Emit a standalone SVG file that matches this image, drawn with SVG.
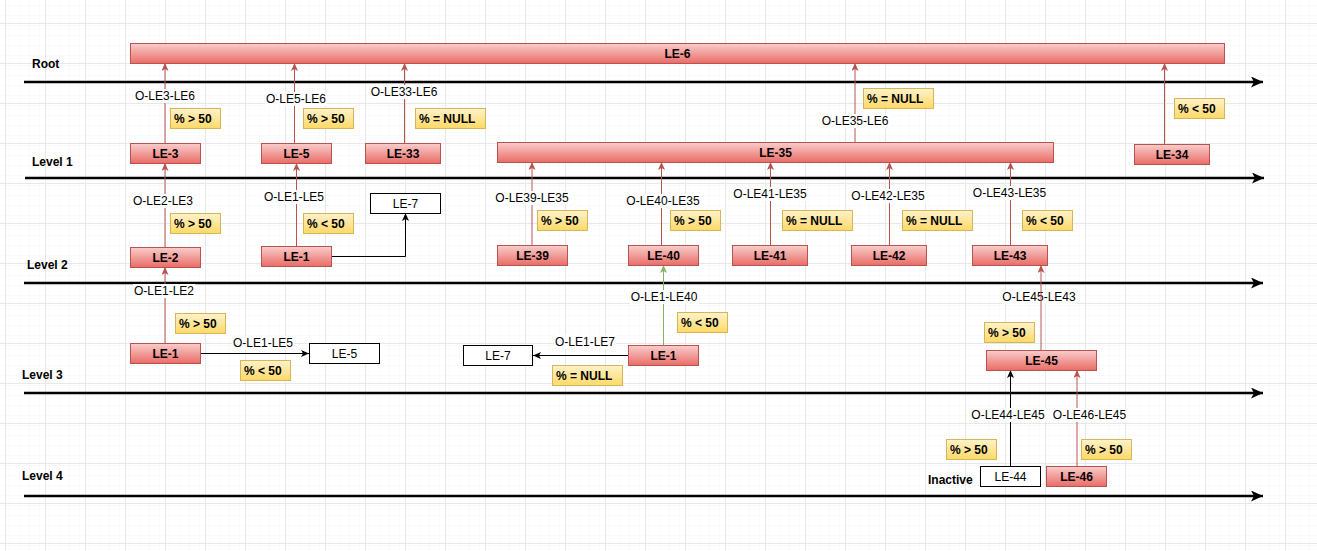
<svg xmlns="http://www.w3.org/2000/svg" width="1317" height="551" viewBox="0 0 1317 551">
<defs>
  <pattern id="minor" x="5" y="3" width="10" height="10" patternUnits="userSpaceOnUse">
    <path d="M10,0 V10 M0,10 H10" fill="none" stroke="#f4f4f4" stroke-width="1"/>
  </pattern>
  <pattern id="major" x="5" y="23" width="40" height="40" patternUnits="userSpaceOnUse">
    <rect width="40" height="40" fill="url(#minor)"/>
    <path d="M0.5,0 V40 M0,0.5 H40" fill="none" stroke="#e8e8e8" stroke-width="1"/>
  </pattern>
  <linearGradient id="red" x1="0" y1="0" x2="0" y2="1">
    <stop offset="0" stop-color="#f8cecc"/>
    <stop offset="1" stop-color="#ea6b66"/>
  </linearGradient>
  <linearGradient id="yel" x1="0" y1="0" x2="0" y2="1">
    <stop offset="0" stop-color="#fff2cc"/>
    <stop offset="1" stop-color="#ffd966"/>
  </linearGradient>
  <marker id="aRed" markerUnits="userSpaceOnUse" markerWidth="9" markerHeight="8" refX="8" refY="3.5" orient="auto">
    <path d="M0,0 L8,3.5 L0,7 L2,3.5 Z" fill="#b85450"/>
  </marker>
  <marker id="aBlack" markerUnits="userSpaceOnUse" markerWidth="9" markerHeight="8" refX="8" refY="3.5" orient="auto">
    <path d="M0,0 L8,3.5 L0,7 L2,3.5 Z" fill="#000"/>
  </marker>
  <marker id="aGreen" markerUnits="userSpaceOnUse" markerWidth="9" markerHeight="8" refX="8" refY="3.5" orient="auto">
    <path d="M0,0 L8,3.5 L0,7 L2,3.5 Z" fill="#82b366"/>
  </marker>
  <marker id="aAxis" markerUnits="userSpaceOnUse" markerWidth="13" markerHeight="12" refX="12" refY="5.5" orient="auto">
    <path d="M0,0 L12,5.5 L0,11 L3,5.5 Z" fill="#000"/>
  </marker>
</defs>
<style>
  text { font-family: "Liberation Sans", Arial, Helvetica, sans-serif; font-size: 12px; fill: #000; }
  .n rect { fill: url(#red); stroke: #b85450; stroke-width: 1; }
  .n text { font-weight: bold; text-anchor: middle; }
  .w rect { fill: #fff; stroke: #000; stroke-width: 1; }
  .w text { text-anchor: middle; }
  .y rect { fill: url(#yel); stroke: #d6b656; stroke-width: 1; }
  .y text { font-weight: bold; }
  .lvl { font-weight: bold; }
  .axis { stroke: #000; stroke-width: 2.5; fill: none; marker-end: url(#aAxis); }
  .er { stroke: #b85450; stroke-width: 1; fill: none; marker-end: url(#aRed); }
  .eb { stroke: #000; stroke-width: 1; fill: none; marker-end: url(#aBlack); }
  .eg { stroke: #82b366; stroke-width: 1; fill: none; marker-end: url(#aGreen); }
  .lb { fill: #fff; }
  .el { text-anchor: middle; }
</style>
<rect width="1317" height="551" fill="#fff"/>
<rect width="1317" height="551" fill="url(#major)"/>

<g id="axes">
  <path class="axis" d="M24,82 H1263"/>
  <path class="axis" d="M25,178 H1264"/>
  <path class="axis" d="M24,283 H1263"/>
  <path class="axis" d="M24,393 H1263"/>
  <path class="axis" d="M24,496 H1263"/>
  <text class="lvl" x="32" y="68">Root</text>
  <text class="lvl" x="32" y="166">Level 1</text>
  <text class="lvl" x="27" y="269">Level 2</text>
  <text class="lvl" x="22" y="379">Level 3</text>
  <text class="lvl" x="22" y="480">Level 4</text>
  <text class="lvl" x="928" y="484">Inactive</text>
</g>

<g id="connectors">
  <path class="er" d="M165,143 V63"/>
  <path class="er" d="M294.5,143 V63"/>
  <path class="er" d="M404.5,143 V63"/>
  <path class="er" d="M855,142 V63"/>
  <path class="er" d="M1164.5,144 V63"/>
  <path class="er" d="M165,247 V163"/>
  <path class="er" d="M296.5,246 V163"/>
  <path class="eb" d="M331,256.5 H405.5 V213"/>
  <path class="er" d="M532,245 V162"/>
  <path class="er" d="M661.5,245 V162"/>
  <path class="er" d="M770.5,245 V162"/>
  <path class="er" d="M889.5,245 V162"/>
  <path class="er" d="M1010.5,245 V162"/>
  <path class="er" d="M165,343 V267"/>
  <path class="eb" d="M200,353.5 H309"/>
  <path class="eg" d="M663.5,345 V265"/>
  <path class="eb" d="M628,355.5 H533"/>
  <path class="er" d="M1041,350 V265"/>
  <path class="eb" d="M1010.5,466 V370"/>
  <path class="er" d="M1077,466 V370"/>

  <g id="edge-labels">
    <rect class="lb" x="134" y="89" width="62" height="14"/><text class="el" x="165" y="100">O-LE3-LE6</text>
    <rect class="lb" x="265" y="92" width="62" height="14"/><text class="el" x="296" y="103">O-LE5-LE6</text>
    <rect class="lb" x="370" y="85" width="69" height="14"/><text class="el" x="404" y="96">O-LE33-LE6</text>
    <rect class="lb" x="821" y="114" width="69" height="14"/><text class="el" x="855" y="125">O-LE35-LE6</text>
    <rect class="lb" x="132" y="194" width="62" height="14"/><text class="el" x="163" y="205">O-LE2-LE3</text>
    <rect class="lb" x="263" y="190" width="62" height="14"/><text class="el" x="294" y="201">O-LE1-LE5</text>
    <rect class="lb" x="133" y="284" width="62" height="14"/><text class="el" x="164" y="295">O-LE1-LE2</text>
    <rect class="lb" x="232" y="336" width="62" height="14"/><text class="el" x="263" y="347">O-LE1-LE5</text>
    <rect class="lb" x="495" y="191" width="75" height="14"/><text class="el" x="532" y="202">O-LE39-LE35</text>
    <rect class="lb" x="626" y="194" width="75" height="14"/><text class="el" x="663" y="205">O-LE40-LE35</text>
    <rect class="lb" x="733" y="187" width="75" height="14"/><text class="el" x="770" y="198">O-LE41-LE35</text>
    <rect class="lb" x="851" y="189" width="75" height="14"/><text class="el" x="888" y="200">O-LE42-LE35</text>
    <rect class="lb" x="972" y="186" width="75" height="14"/><text class="el" x="1009.5" y="197">O-LE43-LE35</text>
    <rect class="lb" x="630" y="290" width="69" height="14"/><text class="el" x="664" y="301">O-LE1-LE40</text>
    <rect class="lb" x="554" y="335" width="62" height="14"/><text class="el" x="585" y="346">O-LE1-LE7</text>
    <rect class="lb" x="1002" y="290" width="75" height="14"/><text class="el" x="1039" y="301">O-LE45-LE43</text>
    <path d="M1041,290 V304" stroke="#b85450" stroke-width="1" fill="none"/>
    <rect class="lb" x="971" y="408" width="75" height="14"/><text class="el" x="1008" y="419">O-LE44-LE45</text>
    <rect class="lb" x="1052" y="408" width="75" height="14"/><text class="el" x="1089.5" y="419">O-LE46-LE45</text>
  </g>
</g>

<g id="LE-6" class="n"><rect x="130.5" y="43.5" width="1094" height="20"/><text x="677.5" y="57.5">LE-6</text></g>
<g id="LE-3" class="n"><rect x="130.5" y="143.5" width="70" height="20"/><text x="165.5" y="157.5">LE-3</text></g>
<g id="LE-5" class="n"><rect x="261.5" y="143.5" width="70" height="20"/><text x="296.5" y="157.5">LE-5</text></g>
<g id="LE-33" class="n"><rect x="365.5" y="143.5" width="75" height="20"/><text x="403" y="157.5">LE-33</text></g>
<g id="LE-35" class="n"><rect x="497.5" y="142.5" width="556" height="20"/><text x="775.5" y="156.5">LE-35</text></g>
<g id="LE-34" class="n"><rect x="1134.5" y="144.5" width="75" height="20"/><text x="1172" y="158.5">LE-34</text></g>

<g id="LE-2" class="n"><rect x="130.5" y="247.5" width="70" height="20"/><text x="165.5" y="261.5">LE-2</text></g>
<g id="LE-1-l2" class="n"><rect x="261.5" y="246.5" width="70" height="20"/><text x="296.5" y="260.5">LE-1</text></g>
<g id="LE-7-l2" class="w"><rect x="370.5" y="193.5" width="70" height="20"/><text x="405.5" y="207.5">LE-7</text></g>
<g id="LE-39" class="n"><rect x="497.5" y="245.5" width="70" height="20"/><text x="532.5" y="259.5">LE-39</text></g>
<g id="LE-40" class="n"><rect x="628.5" y="245.5" width="70" height="20"/><text x="663.5" y="259.5">LE-40</text></g>
<g id="LE-41" class="n"><rect x="732.5" y="245.5" width="75" height="20"/><text x="770" y="259.5">LE-41</text></g>
<g id="LE-42" class="n"><rect x="851.5" y="245.5" width="75" height="20"/><text x="889" y="259.5">LE-42</text></g>
<g id="LE-43" class="n"><rect x="972.5" y="245.5" width="75" height="20"/><text x="1010" y="259.5">LE-43</text></g>

<g id="LE-1-l3a" class="n"><rect x="130.5" y="343.5" width="70" height="20"/><text x="165.5" y="357.5">LE-1</text></g>
<g id="LE-5-l3" class="w"><rect x="309.5" y="343.5" width="70" height="20"/><text x="344.5" y="357.5">LE-5</text></g>
<g id="LE-7-l3" class="w"><rect x="463.5" y="345.5" width="69" height="20"/><text x="498" y="359.5">LE-7</text></g>
<g id="LE-1-l3b" class="n"><rect x="628.5" y="345.5" width="70" height="20"/><text x="663.5" y="359.5">LE-1</text></g>
<g id="LE-45" class="n"><rect x="986.5" y="350.5" width="110" height="20"/><text x="1041.5" y="364.5">LE-45</text></g>

<g id="LE-44" class="w"><rect x="980.5" y="466.5" width="60" height="20"/><text x="1010.5" y="480.5">LE-44</text></g>
<g id="LE-46" class="n"><rect x="1046.5" y="466.5" width="60" height="20"/><text x="1076.5" y="480.5">LE-46</text></g>

<g id="cond-1" class="y"><rect x="170.5" y="108.5" width="50" height="20"/><text x="174" y="122.5">% &gt; 50</text></g>
<g id="cond-2" class="y"><rect x="303.5" y="108.5" width="50" height="20"/><text x="307" y="122.5">% &gt; 50</text></g>
<g id="cond-3" class="y"><rect x="415.5" y="108.5" width="70" height="20"/><text x="419" y="122.5">% = NULL</text></g>
<g id="cond-4" class="y"><rect x="863.5" y="88.5" width="70" height="20"/><text x="867" y="102.5">% = NULL</text></g>
<g id="cond-5" class="y"><rect x="1174.5" y="98.5" width="50" height="20"/><text x="1178" y="112.5">% &lt; 50</text></g>
<g id="cond-6" class="y"><rect x="170.5" y="213.5" width="50" height="20"/><text x="174" y="227.5">% &gt; 50</text></g>
<g id="cond-7" class="y"><rect x="303.5" y="213.5" width="50" height="20"/><text x="307" y="227.5">% &lt; 50</text></g>
<g id="cond-8" class="y"><rect x="537.5" y="210.5" width="50" height="20"/><text x="541" y="224.5">% &gt; 50</text></g>
<g id="cond-9" class="y"><rect x="670.5" y="210.5" width="50" height="20"/><text x="674" y="224.5">% &gt; 50</text></g>
<g id="cond-10" class="y"><rect x="782.5" y="210.5" width="70" height="20"/><text x="786" y="224.5">% = NULL</text></g>
<g id="cond-11" class="y"><rect x="902.5" y="210.5" width="70" height="20"/><text x="906" y="224.5">% = NULL</text></g>
<g id="cond-12" class="y"><rect x="1022.5" y="210.5" width="50" height="20"/><text x="1026" y="224.5">% &lt; 50</text></g>
<g id="cond-13" class="y"><rect x="175.5" y="313.5" width="50" height="20"/><text x="179" y="327.5">% &gt; 50</text></g>
<g id="cond-14" class="y"><rect x="240.5" y="360.5" width="50" height="20"/><text x="244" y="374.5">% &lt; 50</text></g>
<g id="cond-15" class="y"><rect x="677.5" y="312.5" width="50" height="20"/><text x="681" y="326.5">% &lt; 50</text></g>
<g id="cond-16" class="y"><rect x="552.5" y="365.5" width="70" height="20"/><text x="556" y="379.5">% = NULL</text></g>
<g id="cond-17" class="y"><rect x="984.5" y="322.5" width="50" height="20"/><text x="988" y="336.5">% &gt; 50</text></g>
<g id="cond-18" class="y"><rect x="946.5" y="439.5" width="50" height="20"/><text x="950" y="453.5">% &gt; 50</text></g>
<g id="cond-19" class="y"><rect x="1081.5" y="439.5" width="50" height="20"/><text x="1085" y="453.5">% &gt; 50</text></g>
</svg>
